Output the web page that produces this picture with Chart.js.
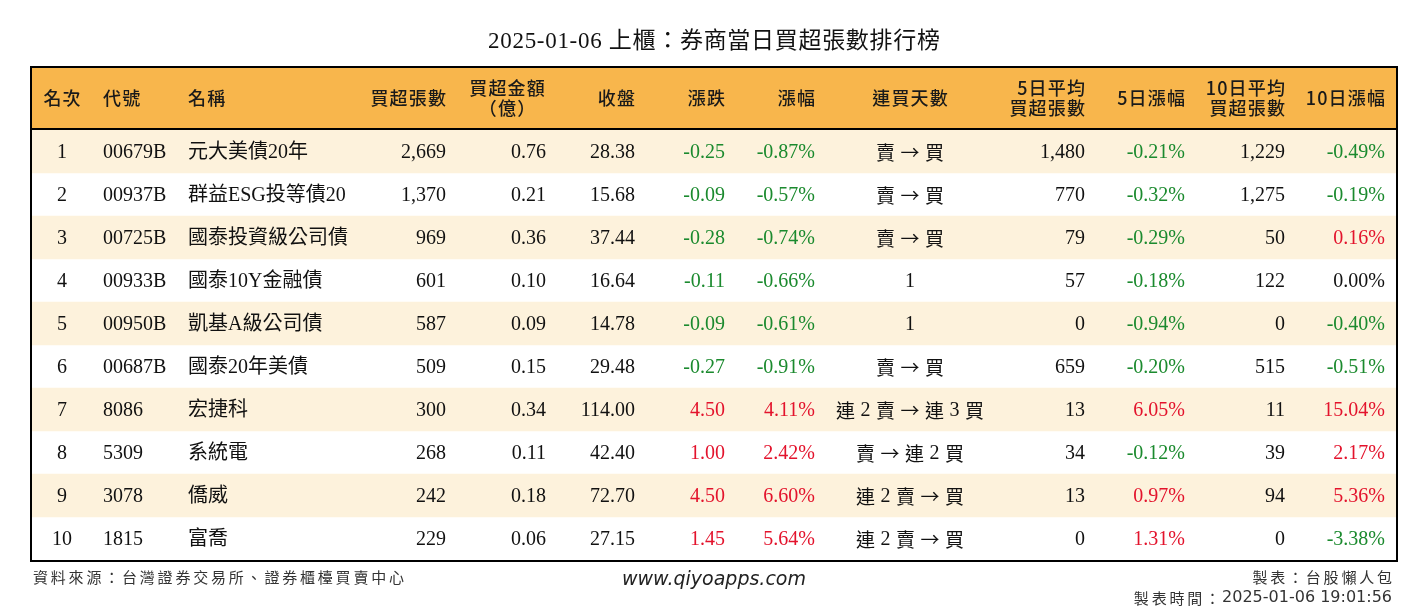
<!DOCTYPE html>
<html>
<head>
<meta charset="utf-8">
<script src="https://cdn.jsdelivr.net/npm/chart.js@4.4.1/dist/chart.umd.min.js"></script>
<style>
html,body{margin:0;padding:0;background:#fff;}
#wrap{width:1428px;height:612px;position:relative;}
</style>
</head>
<body>
<div id="wrap"><canvas id="c" width="1428" height="612"></canvas></div>
<script>
// ---------- DATA ----------
const title = '2025-01-06 上櫃：券商當日買超張數排行榜';
const ranks = [1, 2, 3, 4, 5, 6, 7, 8, 9, 10];
const codes = ['00679B', '00937B', '00725B', '00933B', '00950B', '00687B', '8086', '5309', '3078', '1815'];
const names = ['元大美債20年', '群益ESG投等債20', '國泰投資級公司債', '國泰10Y金融債', '凱基A級公司債', '國泰20年美債', '宏捷科', '系統電', '僑威', '富喬'];
const netBuyLots = [2669, 1370, 969, 601, 587, 509, 300, 268, 242, 229];
const netBuyAmount = [0.76, 0.21, 0.36, 0.10, 0.09, 0.15, 0.34, 0.11, 0.18, 0.06];
const closePrice = [28.38, 15.68, 37.44, 16.64, 14.78, 29.48, 114.00, 42.40, 72.70, 27.15];
const priceChange = [-0.25, -0.09, -0.28, -0.11, -0.09, -0.27, 4.50, 1.00, 4.50, 1.45];
const changePct = [-0.87, -0.57, -0.74, -0.66, -0.61, -0.91, 4.11, 2.42, 6.60, 5.64];
const buyStreak = ['賣 → 買', '賣 → 買', '賣 → 買', '1', '1', '賣 → 買', '連 2 賣 → 連 3 買', '賣 → 連 2 買', '連 2 賣 → 買', '連 2 賣 → 買'];
const avg5Lots = [1480, 770, 79, 57, 0, 659, 13, 34, 13, 0];
const pct5 = [-0.21, -0.32, -0.29, -0.18, -0.94, -0.20, 6.05, -0.12, 0.97, 1.31];
const avg10Lots = [1229, 1275, 50, 122, 0, 515, 11, 39, 94, 0];
const pct10 = [-0.49, -0.19, 0.16, 0.00, -0.40, -0.51, 15.04, 2.17, 5.36, -3.38];
const headerLabels = [['名次'], ['代號'], ['名稱'], ['買超張數'], ['買超金額', '（億）'], ['收盤'], ['漲跌'], ['漲幅'], ['連買天數'], ['5日平均', '買超張數'], ['5日漲幅'], ['10日平均', '買超張數'], ['10日漲幅']];
const footLeft = '資料來源：台灣證券交易所、證券櫃檯買賣中心';
const footCenter = 'www.qiyoapps.com';
const footRight1 = '製表：台股懶人包';
const footRight2a = '製表時間：';
const footRight2b = '2025-01-06 19:01:56';

// ---------- LAYOUT (x-scale units across the table) ----------
const TABLE_W = 1366;
const cols = [
  {x: 31, align: 'center'},   // rank
  {x: 72, align: 'left'},     // code
  {x: 157, align: 'left'},    // name
  {x: 415, align: 'right'},   // lots
  {x: 515, align: 'right', hx: 476, halign: 'center'}, // amount
  {x: 604, align: 'right'},   // close
  {x: 694, align: 'right'},   // change
  {x: 784, align: 'right'},   // pct
  {x: 879, align: 'center', tokens: true},  // streak
  {x: 1054, align: 'right'},  // avg5
  {x: 1154, align: 'right'},  // pct5
  {x: 1254, align: 'right'},  // avg10
  {x: 1354, align: 'right'}   // pct10
];

const GREEN = '#1b8a2e', RED = '#e3132c', BLACK = '#111';
const BODY_FONT = "20px 'Liberation Serif', 'Noto Sans CJK TC', serif";
const CJK_FONT = "19px 'Noto Sans CJK TC', sans-serif";
const HEAD_FONT = "500 18px 'Noto Sans CJK TC', sans-serif";
const fmtInt = v => v.toLocaleString('en-US');
const fmt2 = v => v.toFixed(2);
const fmtPct = v => v.toFixed(2) + '%';
const signColor = v => v > 0 ? RED : (v < 0 ? GREEN : BLACK);

function drawText(ctx, text, x, y, align, font, color, spacing) {
  ctx.save();
  ctx.font = font;
  ctx.fillStyle = color;
  ctx.textBaseline = 'middle';
  ctx.letterSpacing = (spacing || 0) + 'px';
  let xx = x;
  if (spacing) {
    if (align === 'right') xx = x + spacing;
    else if (align === 'center') xx = x + spacing / 2;
  }
  ctx.textAlign = align;
  ctx.fillText(text, xx, y);
  ctx.restore();
}

// draw space-separated tokens, digits in serif, CJK / arrow in CJK font
function drawTokens(ctx, text, cx, y, color) {
  const toks = text.split(' ');
  const GAP = 5.5;
  ctx.save();
  ctx.fillStyle = color;
  ctx.textBaseline = 'middle';
  ctx.textAlign = 'left';
  const fonts = toks.map(t => /^[0-9]+$/.test(t) ? BODY_FONT : CJK_FONT);
  const widths = toks.map((t, i) => { ctx.font = fonts[i]; return ctx.measureText(t).width; });
  const total = widths.reduce((s, w) => s + w, 0) + GAP * (toks.length - 1);
  let x = cx - total / 2;
  toks.forEach((t, i) => {
    ctx.font = fonts[i];
    ctx.fillText(t, x, y);
    x += widths[i] + GAP;
  });
  ctx.restore();
}

const tablePlugin = {
  id: 'tablePlugin',
  beforeDraw(chart) {
    const ctx = chart.ctx, a = chart.chartArea;
    ctx.save();
    ctx.fillStyle = '#fff';
    ctx.fillRect(0, 0, chart.width, chart.height);
    ctx.fillStyle = '#f8b64c';
    ctx.fillRect(a.left, 67, a.right - a.left, a.top - 67);
    ctx.restore();
  },
  afterDraw(chart) {
    const ctx = chart.ctx, a = chart.chartArea;
    const xs = chart.scales.x, ys = chart.scales.y;
    // title
    drawText(ctx, title, (a.left + a.right) / 2, 42, 'center', "23px 'Liberation Serif', 'Noto Sans CJK TC', serif", '#111', 0.7);
    // header labels
    headerLabels.forEach((lines, ci) => {
      const c = cols[ci];
      const hx = xs.getPixelForValue(c.hx !== undefined ? c.hx : c.x);
      const al = c.halign || c.align;
      if (lines.length === 1) {
        drawText(ctx, lines[0], hx, 98, al, HEAD_FONT, '#1a1a1a', 1.2);
      } else {
        drawText(ctx, lines[0], hx, 88, al, HEAD_FONT, '#1a1a1a', 1.2);
        drawText(ctx, lines[1], hx, 108, al, HEAD_FONT, '#1a1a1a', 1.2);
      }
    });
    // body
    ranks.forEach((r, i) => {
      const y = ys.getPixelForValue(i);
      const cells = [
        [String(r), BLACK], [codes[i], BLACK], [names[i], BLACK],
        [fmtInt(netBuyLots[i]), BLACK], [fmt2(netBuyAmount[i]), BLACK], [fmt2(closePrice[i]), BLACK],
        [fmt2(priceChange[i]), signColor(priceChange[i])], [fmtPct(changePct[i]), signColor(changePct[i])],
        [buyStreak[i], BLACK],
        [fmtInt(avg5Lots[i]), BLACK], [fmtPct(pct5[i]), signColor(pct5[i])],
        [fmtInt(avg10Lots[i]), BLACK], [fmtPct(pct10[i]), signColor(pct10[i])]
      ];
      cells.forEach(([t, col], ci) => {
        const c = cols[ci];
        if (c.tokens) drawTokens(ctx, t, xs.getPixelForValue(c.x), y + 1, col);
        else drawText(ctx, t, xs.getPixelForValue(c.x), y + 1, c.align, BODY_FONT, col, 0);
      });
    });
    // borders
    ctx.save();
    ctx.strokeStyle = '#000';
    ctx.lineWidth = 2;
    ctx.beginPath();
    ctx.moveTo(a.left, a.top - 1);
    ctx.lineTo(a.right, a.top - 1);
    ctx.stroke();
    ctx.strokeRect(a.left, 67, a.right - a.left, a.bottom + 1 - 67);
    ctx.restore();
    // footer
    const FOOT_CJK = "15px 'Noto Sans CJK TC', sans-serif";
    drawText(ctx, footLeft, 33, 577, 'left', FOOT_CJK, '#333', 2.8);
    drawText(ctx, footCenter, (a.left + a.right) / 2, 580, 'center', "italic 19px 'DejaVu Sans', sans-serif", '#222', 0);
    drawText(ctx, footRight1, 1392, 577, 'right', FOOT_CJK, '#333', 2.8);
    ctx.save();
    ctx.font = "16px 'DejaVu Sans', sans-serif";
    const w2 = ctx.measureText(footRight2b).width;
    ctx.restore();
    drawText(ctx, footRight2b, 1392, 598, 'right', "16px 'DejaVu Sans', sans-serif", '#333', 0);
    drawText(ctx, footRight2a, 1392 - w2 - 2, 598, 'right', FOOT_CJK, '#333', 2.8);
  }
};

new Chart(document.getElementById('c'), {
  type: 'bar',
  data: {
    labels: ranks.map(String),
    datasets: [{
      data: ranks.map((r, i) => i % 2 === 0 ? [0, TABLE_W] : null),
      backgroundColor: '#fdf2dc',
      borderWidth: 0,
      barPercentage: 1,
      categoryPercentage: 1
    }]
  },
  options: {
    indexAxis: 'y',
    responsive: false,
    animation: false,
    layout: {padding: {left: 31, right: 31, top: 130, bottom: 52}},
    plugins: {legend: {display: false}, tooltip: {enabled: false}, title: {display: false}},
    scales: {
      x: {type: 'linear', min: 0, max: TABLE_W, display: false, grid: {display: false}},
      y: {type: 'category', display: false, grid: {display: false}}
    }
  },
  plugins: [tablePlugin]
});
</script>
</body>
</html>
